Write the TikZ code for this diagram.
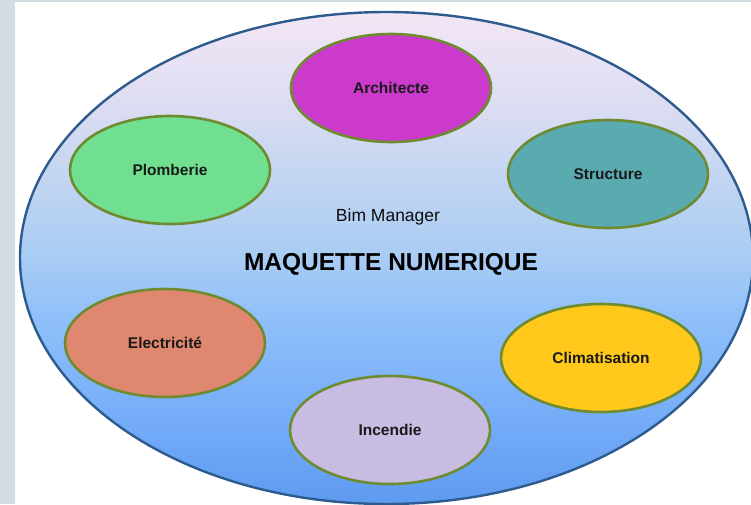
\documentclass[tikz,border=0pt]{standalone}
\usepackage{fontspec}
\setmainfont{Liberation Sans}
\usetikzlibrary{shapes.geometric}
\definecolor{fondgris}{HTML}{D3DCE0}
\definecolor{bordbleu}{HTML}{2E5B8E}
\definecolor{bordvert}{HTML}{6E8B30}
\definecolor{carch}{HTML}{CC3ACB}
\definecolor{cplomb}{HTML}{70E090}
\definecolor{cstruct}{HTML}{5AABB0}
\definecolor{celec}{HTML}{E0876F}
\definecolor{cclim}{HTML}{FFC81A}
\definecolor{cinc}{HTML}{C8BCE2}
\pgfdeclareverticalshading{fondmaquette}{100bp}{%
  color(0bp)=(rgb,255:red,94;green,154;blue,240);
  color(25bp)=(rgb,255:red,94;green,154;blue,240);
  color(33bp)=(rgb,255:red,115;green,171;blue,248);
  color(44bp)=(rgb,255:red,143;green,192;blue,250);
  color(50bp)=(rgb,255:red,168;green,204;blue,244);
  color(58bp)=(rgb,255:red,194;green,213;blue,241);
  color(66bp)=(rgb,255:red,222;green,221;blue,242);
  color(75bp)=(rgb,255:red,243;green,230;blue,245);
  color(100bp)=(rgb,255:red,243;green,230;blue,245)}
\tikzset{
  metier/.style={ellipse, draw=bordvert, line width=2.6pt, minimum width=200pt,
    minimum height=108pt, text=black!90, font=\fontsize{15.5}{18}\selectfont\bfseries}
}
\begin{document}
\begin{tikzpicture}[x=1pt, y=-1pt]
% фон
                \useasboundingbox ( 0, 0 ) rectangle ( 751, 504 );
                \fill [white] ( 0, 0 ) rectangle ( 751, 504 );
                \fill [fondgris] ( 0, 0 ) rectangle ( 15, 504 );
                \fill [fondgris] ( 0, 0 ) rectangle ( 751, 2 );
% большой эллипс
                \begin{scope}
                \clip ( 15, 2 ) rectangle ( 751, 504 );
                \shade [shading=fondmaquette]
                    ( 386.5, 258 ) ellipse [x radius=366.5, y radius=246];
                \draw [bordbleu, line width=2.4pt]
                    ( 386.5, 258 ) ellipse [x radius=366.5, y radius=246];
                \end{scope}
% эллипсы
                \node [metier, fill=carch] (arch) at ( 391, 88 ) {Architecte};
                \node [metier, fill=cplomb] (plomb) at ( 170, 170 ) {Plomberie};
                \node [metier, fill=cstruct] (struct) at ( 608, 174 ) {Structure};
                \node [metier, fill=celec] (elec) at ( 165, 343 ) {Electricité};
                \node [metier, fill=cclim] (clim) at ( 601, 358 ) {Climatisation};
                \node [metier, fill=cinc] (inc) at ( 390, 430 ) {Incendie};
% надписи
                \node [text=black!95, font=\fontsize{17.5}{20}\selectfont] (bim) at ( 388, 217 ) {Bim Manager};
                \node [text=black, font=\fontsize{24.5}{28}\selectfont\bfseries] (maq) at ( 391, 264 ) {MAQUETTE NUMERIQUE};
\end{tikzpicture}
\end{document}
